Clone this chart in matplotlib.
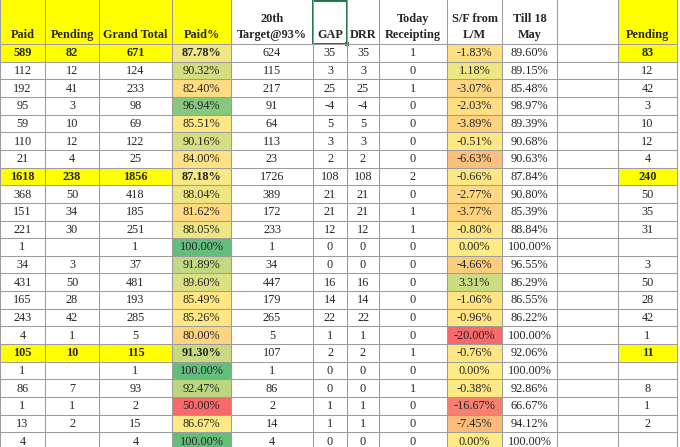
import matplotlib.pyplot as plt
from matplotlib.patches import Rectangle

paid = [589, 112, 192, 95, 59, 110, 21, 1618, 368, 151, 221, 1, 34, 431, 165, 243, 4, 105, 1, 86, 1, 13, 4]
pending = [82, 12, 41, 3, 10, 12, 4, 238, 50, 34, 30, None, 3, 50, 28, 42, 1, 10, None, 7, 1, 2, None]
grand_total = [671, 124, 233, 98, 69, 122, 25, 1856, 418, 185, 251, 1, 37, 481, 193, 285, 5, 115, 1, 93, 2, 15, 4]
paid_pct = [87.78, 90.32, 82.40, 96.94, 85.51, 90.16, 84.00, 87.18, 88.04, 81.62, 88.05, 100.00, 91.89,
            89.60, 85.49, 85.26, 80.00, 91.30, 100.00, 92.47, 50.00, 86.67, 100.00]
target = [624, 115, 217, 91, 64, 113, 23, 1726, 389, 172, 233, 1, 34, 447, 179, 265, 5, 107, 1, 86, 2, 14, 4]
gap = [35, 3, 25, -4, 5, 3, 2, 108, 21, 21, 12, 0, 0, 16, 14, 22, 1, 2, 0, 0, 1, 1, 0]
drr = [35, 3, 25, -4, 5, 3, 2, 108, 21, 21, 12, 0, 0, 16, 14, 22, 1, 2, 0, 0, 1, 1, 0]
today = [1, 0, 1, 0, 0, 0, 0, 2, 0, 1, 1, 0, 0, 0, 0, 0, 0, 1, 0, 1, 0, 0, 0]
sf_lm = [-1.83, 1.18, -3.07, -2.03, -3.89, -0.51, -6.63, -0.66, -2.77, -3.77, -0.80, 0.00, -4.66,
         3.31, -1.06, -0.96, -20.00, -0.76, 0.00, -0.38, -16.67, -7.45, 0.00]
till_18 = [89.60, 89.15, 85.48, 98.97, 89.39, 90.68, 90.63, 87.84, 90.80, 85.39, 88.84, 100.00, 96.55,
           86.29, 86.55, 86.22, 100.00, 92.06, 100.00, 92.86, 66.67, 94.12, 100.00]
pending2 = [83, 12, 42, 3, 10, 12, 4, 240, 50, 35, 31, None, 3, 50, 28, 42, 1, 11, None, 8, 1, 2, None]
total_rows = [0, 7, 17]

headers = ["Paid", "Pending", "Grand Total", "Paid%", "20th\nTarget@93%", "GAP", "DRR",
           "Today\nReceipting", "S/F from\nL/M", "Till 18\nMay", "", "Pending"]

# column edges in pixels
xs = [0, 45, 99, 172, 231, 313, 347, 379, 447, 502, 557, 618, 677]
head_h = 44
row_h = 17.65
n = len(paid)

RED = (248, 105, 107)
YEL = (255, 235, 132)
GRN = (99, 190, 123)


def scale(v, lo, mid, hi):
    if v <= mid:
        t = (v - lo) / (mid - lo)
        a, b = RED, YEL
    else:
        t = min((v - mid) / (hi - mid), 1)
        a, b = YEL, GRN
    return tuple((a[i] + (b[i] - a[i]) * t) / 255 for i in range(3))


def fmt(v):
    return "" if v is None else str(v)


fig = plt.figure(figsize=(6.8, 4.47), dpi=100)
ax = fig.add_axes([0, 0, 1, 1])
ax.set_xlim(0, 680)
ax.set_ylim(447, 0)
ax.axis("off")

font = dict(family="Liberation Serif", fontsize=8.8, color="#262626")

# header fills
for c in [0, 1, 2, 3, 11]:
    ax.add_patch(Rectangle((xs[c], 0), xs[c + 1] - xs[c], head_h, color="#ffff00", lw=0))

columns = [
    [fmt(v) for v in paid],
    [fmt(v) for v in pending],
    [fmt(v) for v in grand_total],
    ["%.2f%%" % v for v in paid_pct],
    [fmt(v) for v in target],
    [fmt(v) for v in gap],
    [fmt(v) for v in drr],
    [fmt(v) for v in today],
    ["%.2f%%" % v for v in sf_lm],
    ["%.2f%%" % v for v in till_18],
    ["" for _ in paid],
    [fmt(v) for v in pending2],
]

for r in range(n):
    y0 = head_h + r * row_h
    fills = {3: scale(paid_pct[r], 50, 86.5, 100), 8: scale(sf_lm[r], -20, 0, 10)}
    if r in total_rows:
        for c in [0, 1, 2, 11]:
            fills[c] = "#ffff00"
    for c, col in fills.items():
        ax.add_patch(Rectangle((xs[c], y0), xs[c + 1] - xs[c], row_h, color=col, lw=0))

# grid
grid = "#9c9c9c"
for r in range(n + 1):
    y = head_h + r * row_h
    ax.plot([0, xs[-1]], [y, y], color=grid, lw=0.75)
for x in xs:
    ax.plot([x, x], [0, 447], color=grid, lw=0.75)

# header text
for c, h in enumerate(headers):
    cx = (xs[c] + xs[c + 1]) / 2
    lines = h.split("\n")
    if len(lines) == 2:
        ax.text(cx, 19, lines[0], ha="center", va="center", fontweight="bold", **font)
        ax.text(cx, 35, lines[1], ha="center", va="center", fontweight="bold", **font)
    elif h:
        ax.text(cx, 35, h, ha="center", va="center", fontweight="bold", **font)

# cell text
for c, col in enumerate(columns):
    cx = (xs[c] + xs[c + 1]) / 2
    for r, s in enumerate(col):
        bold = r in total_rows and c in [0, 1, 2, 3, 11]
        ax.text(cx, head_h + (r + 0.5) * row_h + 0.5, s, ha="center", va="center",
                fontweight="bold" if bold else "normal", **font)

# excel selection box on GAP header
ax.add_patch(Rectangle((xs[5], 0.5), xs[6] - xs[5], head_h - 0.5, fill=False, ec="#217346", lw=1.4))
ax.add_patch(Rectangle((xs[6] - 2, head_h - 2), 4, 4, color="#217346", lw=0))

fig.savefig("out.png", dpi=100)
